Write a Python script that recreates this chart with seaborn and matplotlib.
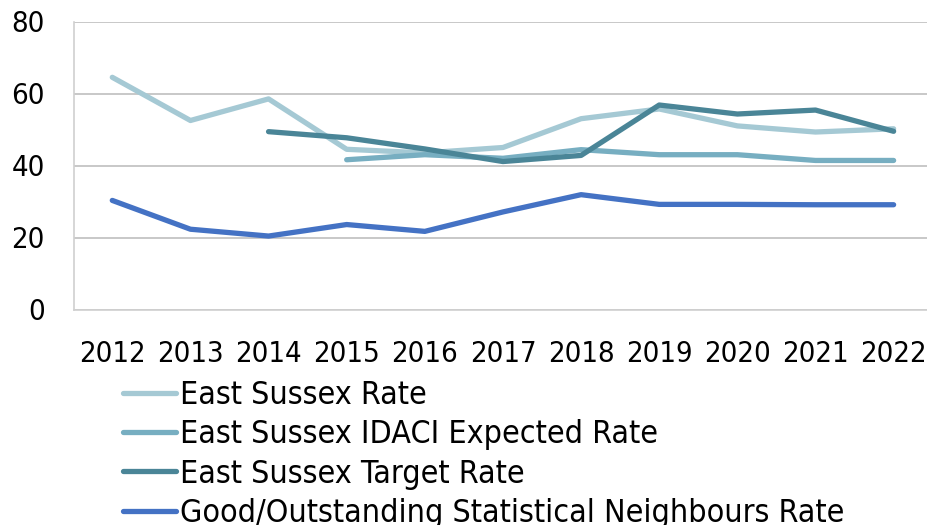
import numpy as np
import pandas as pd
import matplotlib
matplotlib.use("Agg")
import matplotlib.pyplot as plt
from matplotlib import font_manager
from matplotlib.lines import Line2D
import seaborn as sns

years = ["2012", "2013", "2014", "2015", "2016", "2017", "2018", "2019", "2020", "2021", "2022"]
east_sussex_rate = [64.5, 52.5, 58.5, 44.5, 43.5, 45.0, 53.0, 55.7, 51.0, 49.3, 50.2]
idaci_expected = [np.nan, np.nan, np.nan, 41.6, 43.0, 42.0, 44.4, 43.0, 43.0, 41.4, 41.4]
target_rate = [np.nan, np.nan, 49.4, 47.7, 44.6, 41.1, 42.8, 56.8, 54.3, 55.4, 49.5]
neighbours_rate = [30.3, 22.3, 20.4, 23.6, 21.7, 27.1, 31.9, 29.2, 29.2, 29.1, 29.1]

series_names = ["East Sussex Rate", "East Sussex IDACI Expected Rate",
                "East Sussex Target Rate", "Good/Outstanding Statistical Neighbours Rate"]
series_values = [east_sussex_rate, idaci_expected, target_rate, neighbours_rate]
colors = ["#A5C9D4", "#77AEC1", "#4A8597", "#4472C4"]

rows = []
for name, vals in zip(series_names, series_values):
    for i, v in enumerate(vals):
        rows.append({"idx": i, "value": v, "series": name})
df = pd.DataFrame(rows)

sns.set_theme(style="white")
names = {f.name for f in font_manager.fontManager.ttflist}
if "Liberation Sans Narrow" in names:
    plt.rcParams["font.family"] = ["Liberation Sans Narrow", "DejaVu Sans"]
else:
    plt.rcParams["font.family"] = ["DejaVu Sans"]
    plt.rcParams["font.stretch"] = "condensed"
plt.rcParams["text.color"] = "black"

fig = plt.figure(figsize=(9.28, 5.25), dpi=100)
ax = fig.add_axes([74 / 928, 1 - 309.5 / 525, 1 - 74 / 928, (309.5 - 21.5) / 525])

sns.lineplot(data=df, x="idx", y="value", hue="series", hue_order=series_names,
             palette=colors, linewidth=3.8, ax=ax, legend=False,
             solid_capstyle="round", solid_joinstyle="round")

ax.set_xlim(-0.49, 10.44)
ax.set_ylim(0, 80)
ax.set_yticks([0, 20, 40, 60, 80])
ax.set_xticks(range(len(years)))
ax.set_xticklabels(years)
ax.set_xlabel("")
ax.set_ylabel("")
ax.grid(axis="y", color="#BFBFBF", linewidth=1.2)
ax.grid(axis="x", visible=False)
for s in ["top", "right"]:
    ax.spines[s].set_visible(False)
for s in ["left", "bottom"]:
    ax.spines[s].set_color("#D0D0D0")
    ax.spines[s].set_linewidth(1.2)
ax.tick_params(axis="both", length=0, labelsize=21, colors="black")
ax.tick_params(axis="x", pad=22)
ax.tick_params(axis="y", pad=21)

handles = [Line2D([0], [0], color=c, linewidth=3.8, solid_capstyle="round") for c in colors]
leg = fig.legend(handles, series_names, loc="upper left", bbox_to_anchor=(123 / 928, 1 - 380 / 525),
                 frameon=False, fontsize=23, handlelength=1.65, handletextpad=0.15,
                 labelspacing=0.26, borderpad=0, borderaxespad=0)
for t in leg.get_texts():
    t.set_color("black")

fig.savefig("out.png", dpi=100)
